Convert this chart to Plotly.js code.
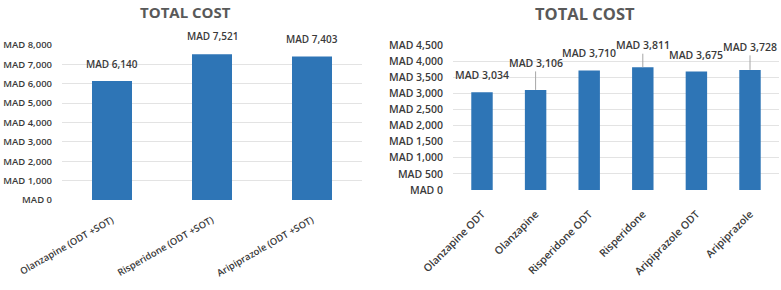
<!DOCTYPE html>
<html>
<head>
<meta charset="utf-8">
<script src="https://cdn.plot.ly/plotly-3.0.1.min.js"></script>
<style>html,body{margin:0;padding:0;background:#fff;}#chart{width:781px;height:290px;}</style>
</head>
<body>
<div id="chart"></div>
<script>
// ---- data ----
const leftCategories = ["Olanzapine (ODT +SOT)", "Risperidone (ODT +SOT)", "Aripiprazole (ODT +SOT)"];
const leftCost = [6140, 7521, 7403];
const rightCategories = ["Olanzapine ODT", "Olanzapine", "Risperidone ODT", "Risperidone", "Aripiprazole ODT", "Aripiprazole"];
const rightCost = [3034, 3106, 3710, 3811, 3675, 3728];
const leftTickVals = [0, 1000, 2000, 3000, 4000, 5000, 6000, 7000, 8000];
const rightTickVals = [0, 500, 1000, 1500, 2000, 2500, 3000, 3500, 4000, 4500];
const chartTitle = "TOTAL COST";

// ---- style ----
const barColor = "#2e75b6";
const textColor = "#3a3a3a";
const gridColor = "#e3e3e3";
const font = "'Open Sans', sans-serif";
const W = 600;
const leftLabelLift = [17, 18, 18];
const rightLabelLift = [17, 27, 17, 22, 17, 23];
const rightLeader = [false, true, false, true, false, true];

const fmt = v => "MAD " + v.toLocaleString("en-US");

const traces = [
  {type: "bar", x: leftCategories, y: leftCost, xaxis: "x", yaxis: "y",
   marker: {color: barColor}, hoverinfo: "none"},
  {type: "bar", x: rightCategories, y: rightCost, xaxis: "x2", yaxis: "y2",
   marker: {color: barColor}, hoverinfo: "none"}
];

const annotations = [];
leftCategories.forEach((c, i) => {
  annotations.push({x: c, y: leftCost[i], xref: "x", yref: "y", text: fmt(leftCost[i]),
    showarrow: false, yshift: leftLabelLift[i], yanchor: "middle",
    font: {family: font, size: 10, weight: W, color: textColor}});
});
rightCategories.forEach((c, i) => {
  const a = {x: c, y: rightCost[i], xref: "x2", yref: "y2", text: fmt(rightCost[i]),
    font: {family: font, size: 10.5, weight: W, color: textColor}};
  if (rightLeader[i]) {
    Object.assign(a, {showarrow: true, ax: 0, ay: -rightLabelLift[i], arrowhead: 0,
      arrowwidth: 1, arrowcolor: "#a6a6a6", standoff: 0});
  } else {
    Object.assign(a, {showarrow: false, yshift: rightLabelLift[i], yanchor: "middle"});
  }
  annotations.push(a);
});
annotations.push({text: "<b>" + chartTitle + "</b>", xref: "paper", yref: "paper",
  x: 185 / 781, y: 1 - 1 / 290, xanchor: "center", yanchor: "top", showarrow: false, borderpad: 0,
  font: {family: font, size: 15, color: "#595959"}});
annotations.push({text: "<b>" + chartTitle + "</b>", xref: "paper", yref: "paper",
  x: 585 / 781, y: 1 - 1 / 290, xanchor: "center", yanchor: "top", showarrow: false, borderpad: 0,
  font: {family: font, size: 16.5, color: "#595959"}});

const layout = {
  width: 781, height: 290,
  margin: {l: 0, r: 0, t: 0, b: 0},
  paper_bgcolor: "#fff", plot_bgcolor: "#fff",
  showlegend: false,
  bargap: 0.6,
  xaxis: {domain: [62 / 781, 362 / 781], anchor: "y", tickangle: -30, showgrid: false,
    showline: false, zeroline: false, ticks: "", ticklabelstandoff: 12,
    tickfont: {family: font, size: 9.5, weight: W, color: textColor}},
  yaxis: {domain: [90 / 290, 245 / 290], anchor: "x", range: [0, 8000], tickvals: leftTickVals,
    ticktext: leftTickVals.map(fmt), showgrid: true, gridcolor: gridColor, gridwidth: 1,
    zeroline: false, showline: false, ticks: "", ticklabelstandoff: 9,
    tickfont: {family: font, size: 9.5, weight: W, color: textColor}},
  xaxis2: {domain: [453 / 781, 779 / 781], anchor: "y2", tickangle: -45, showgrid: false,
    showline: false, zeroline: false, ticks: "", ticklabelstandoff: 15,
    tickfont: {family: font, size: 10.5, weight: W, color: textColor}},
  yaxis2: {domain: [100 / 290, 245 / 290], anchor: "x2", range: [0, 4500], tickvals: rightTickVals,
    ticktext: rightTickVals.map(fmt), showgrid: true, gridcolor: gridColor, gridwidth: 1,
    zeroline: false, showline: false, ticks: "", ticklabelstandoff: 9,
    tickfont: {family: font, size: 10.5, weight: W, color: textColor}},
  annotations: annotations
};

Plotly.newPlot("chart", traces, layout, {staticPlot: true, displayModeBar: false});
</script>
</body>
</html>
